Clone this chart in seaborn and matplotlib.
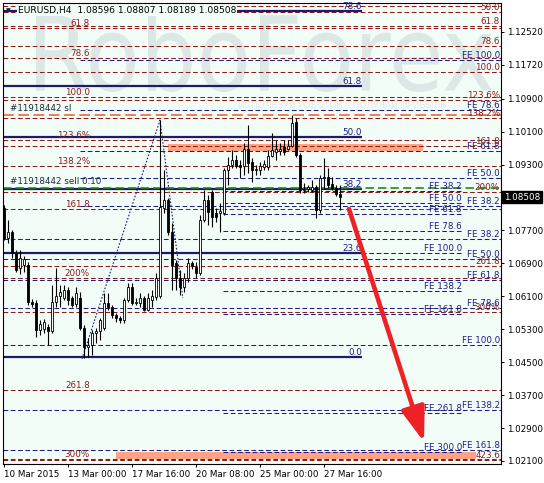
import numpy as np
import pandas as pd
import matplotlib
matplotlib.use('Agg')
import matplotlib.pyplot as plt
import matplotlib.transforms as mtransforms
from matplotlib.patches import Rectangle, FancyArrowPatch, PathPatch
from matplotlib.textpath import TextPath
from matplotlib.font_manager import FontProperties
import seaborn as sns

# ── Velas H4 EURUSD ──────────────────────────────────────────────
bar_open = [1.0824, 1.0751, 1.0766, 1.0715, 1.0679, 1.0686, 1.0686, 1.0596, 1.0594, 1.0528,
            1.0531, 1.0535, 1.0526, 1.0596, 1.0611, 1.0606, 1.0625, 1.0606, 1.0591, 1.0606,
            1.0533, 1.0487, 1.0492, 1.0521, 1.0526, 1.0533, 1.0594, 1.0584, 1.0565, 1.0557,
            1.0552, 1.0601, 1.0632, 1.0594, 1.0594, 1.0606, 1.0577, 1.0601, 1.0608, 1.0610,
            1.0824, 1.0844, 1.0766, 1.0691, 1.0654, 1.0632, 1.0654, 1.0691, 1.0681, 1.0666,
            1.0795, 1.0844, 1.0863, 1.0812, 1.0812, 1.0812, 1.0917, 1.0929, 1.0941, 1.0929,
            1.0926, 1.0968, 1.0936, 1.0917, 1.0917, 1.0924, 1.0924, 1.0951, 1.0960, 1.0963,
            1.0973, 1.0968, 1.0975, 1.1033, 1.0953, 1.0868, 1.0870, 1.0868, 1.0875, 1.0820,
            1.0897, 1.0900, 1.0883, 1.0873, 1.08596]
bar_high = [1.0831, 1.0795, 1.0771, 1.0722, 1.0722, 1.0708, 1.0693, 1.0603, 1.0601, 1.0552,
            1.0555, 1.0543, 1.0637, 1.0679, 1.0637, 1.0637, 1.0632, 1.0611, 1.0632, 1.0620,
            1.0540, 1.0509, 1.0528, 1.0533, 1.0557, 1.0618, 1.0618, 1.0589, 1.0570, 1.0562,
            1.0606, 1.0642, 1.0642, 1.0606, 1.0618, 1.0611, 1.0618, 1.0625, 1.0666, 1.1038,
            1.0917, 1.0849, 1.0788, 1.0698, 1.0674, 1.0666, 1.0703, 1.0696, 1.0693, 1.0808,
            1.0868, 1.0856, 1.0868, 1.0824, 1.0837, 1.0922, 1.0948, 1.0965, 1.0953, 1.0941,
            1.0982, 1.1026, 1.0946, 1.0929, 1.0936, 1.0941, 1.0965, 1.1007, 1.0990, 1.0982,
            1.0990, 1.0990, 1.1050, 1.1043, 1.0958, 1.0885, 1.0880, 1.0892, 1.0880, 1.0905,
            1.0946, 1.0922, 1.0900, 1.0880, 1.08807]
bar_low = [1.0747, 1.0739, 1.0703, 1.0669, 1.0664, 1.0669, 1.0589, 1.0584, 1.0511, 1.0516,
           1.0521, 1.0492, 1.0521, 1.0584, 1.0584, 1.0601, 1.0589, 1.0584, 1.0584, 1.0528,
           1.0460, 1.0462, 1.0468, 1.0497, 1.0504, 1.0528, 1.0577, 1.0557, 1.0548, 1.0545,
           1.0545, 1.0596, 1.0589, 1.0589, 1.0584, 1.0574, 1.0574, 1.0584, 1.0601, 1.0606,
           1.0812, 1.0759, 1.0625, 1.0625, 1.0613, 1.0620, 1.0645, 1.0676, 1.0654, 1.0661,
           1.0790, 1.0783, 1.0778, 1.0790, 1.0766, 1.0807, 1.0880, 1.0922, 1.0922, 1.0897,
           1.0905, 1.0909, 1.0888, 1.0905, 1.0905, 1.0917, 1.0917, 1.0948, 1.0941, 1.0953,
           1.0953, 1.0965, 1.0973, 1.0948, 1.0861, 1.0861, 1.0863, 1.0863, 1.0800, 1.0812,
           1.0873, 1.0873, 1.0868, 1.0854, 1.08189]
bar_close = [1.0751, 1.0766, 1.0715, 1.0674, 1.0703, 1.0700, 1.0596, 1.0592, 1.0528, 1.0543,
             1.0548, 1.0526, 1.0596, 1.0611, 1.0620, 1.0625, 1.0601, 1.0589, 1.0618, 1.0533,
             1.0487, 1.0492, 1.0521, 1.0526, 1.0552, 1.0594, 1.0584, 1.0565, 1.0557, 1.0552,
             1.0601, 1.0632, 1.0594, 1.0596, 1.0606, 1.0577, 1.0606, 1.0611, 1.0654, 1.0827,
             1.0844, 1.0766, 1.0686, 1.0654, 1.0632, 1.0654, 1.0691, 1.0683, 1.0666, 1.0795,
             1.0844, 1.0815, 1.0803, 1.0803, 1.0817, 1.0917, 1.0929, 1.0941, 1.0926, 1.0924,
             1.0968, 1.0934, 1.0917, 1.0919, 1.0926, 1.0931, 1.0951, 1.0965, 1.0968, 1.0968,
             1.0960, 1.0975, 1.1031, 1.0953, 1.0868, 1.0870, 1.0875, 1.0875, 1.0820, 1.0897,
             1.0900, 1.0880, 1.0873, 1.0858, 1.08508]

# ── Niveles Fibonacci ─────────────────────────────────────────────
fib_left_names = ["50.0", "61.8", "78.6", "100.0", "123.6%", "138.2%", "161.8", "200%", "261.8", "300%"]
fib_left_prices = [1.13139, 1.12617, 1.11888, 1.10941, 1.09897, 1.09265, 1.08221, 1.06545, 1.03824, 1.02148]

fib_right_names = ["50.0", "61.8", "78.6", "100.0", "123.6%", "138.2%", "161.8", "200%", "261.8", "300%", "423.6"]
fib_right_prices = [1.13006, 1.12666, 1.12180, 1.11548, 1.10868, 1.10431, 1.09751, 1.08633, 1.06836, 1.05719, 1.02124]

retr_names = ["0.0", "23.6", "38.2", "50.0", "61.8", "78.6"]
retr_prices = [1.04626, 1.07152, 1.08706, 1.09969, 1.11208, 1.13030]

fe_up_names = ["FE 38.2", "FE 50.0", "FE 61.8", "FE 78.6", "FE 100.0"]
fe_up_prices = [1.08293, 1.08974, 1.09629, 1.10625, 1.11840]

fe_down_names = ["FE 38.2", "FE 50.0", "FE 61.8", "FE 78.6", "FE 100.0", "FE 138.2", "FE 161.8"]
fe_down_prices = [1.07492, 1.07006, 1.06508, 1.05816, 1.04917, 1.03338, 1.02367]

fe_mid_names = ["FE 38.2", "FE 50.0", "FE 61.8", "FE 78.6", "FE 100.0", "FE 138.2", "FE 161.8", "FE 261.8", "FE 300.0"]
fe_mid_prices = [1.08658, 1.08366, 1.08099, 1.07686, 1.07152, 1.06229, 1.05670, 1.03266, 1.02319]

order_sl_price = 1.10504
order_sell_price = 1.08731
last_price = 1.08508

zone_bars = [(41.0, 104.75), (28.0, 118.0)]
zone_prices = [(1.09627, 1.09799), (1.02149, 1.02319)]

zigzag_bars = [19.5, 39.0, 44.7]
zigzag_prices = [1.0458, 1.1038, 1.0606]

arrow_bars = [86.25, 105.0]
arrow_prices = [1.08221, 1.02561]

ytick_values = [1.12520, 1.11720, 1.10900, 1.10100, 1.09300, 1.07700, 1.06900,
                1.06100, 1.05300, 1.04500, 1.03700, 1.02900, 1.02100]
xtick_bars = [0, 16, 32, 48, 64, 80]
xtick_labels = ["10 Mar 2015", "13 Mar 00:00", "17 Mar 16:00", "20 Mar 08:00", "25 Mar 00:00", "27 Mar 16:00"]

# ── Estilo ───────────────────────────────────────────────────────
BG = '#F3FDF7'
RED = '#8E1B1B'
NAVY = '#1E1E82'
SOLID = '#1C1C6A'
FS = 6.3
X0, X1 = -0.25, 124.25
Y0, Y1 = 1.02027, 1.13224

sns.set_theme(style='white', rc={'axes.facecolor': BG, 'figure.facecolor': 'white',
                                 'axes.edgecolor': 'black', 'axes.linewidth': 0.8})
plt.rcParams['font.family'] = ['DejaVu Sans']

W, H = 544, 483
fig = plt.figure(figsize=(W / 100, H / 100), dpi=100)
ax = fig.add_axes([3 / W, 1 - 464 / H, 498 / W, 461 / H])
ax.set_xlim(X0, X1)
ax.set_ylim(Y0, Y1)


def fig_px(x, y):
    return x / W, 1 - y / H


# marca de agua (trazada como contorno, en píxeles)
tp = TextPath((0, 0), 'RoboForex', size=100, prop=FontProperties(family='DejaVu Sans'))
bb = tp.get_extents()
wm_tr = (mtransforms.Affine2D().translate(-bb.x0, -bb.y0)
         .scale((492 - 36) / bb.width, (92 - 12) / bb.height)
         .translate(36, H - 92))
ax.add_patch(PathPatch(tp, transform=wm_tr, fc='#DCE8E6', ec='none', zorder=0.5))
ax.text(*fig_px(238, 105), 'ИСПОЛЬЗУЙ РОБОТОВ – ПОЛУЧАЙ ПРИБЫЛЬ', transform=fig.transFigure,
        fontsize=6.5, color='#E2EAE8', ha='left', va='center', zorder=0.5)

# zonas
for (b0, b1), (p0, p1) in zip(zone_bars, zone_prices):
    ax.add_patch(Rectangle((b0, p0), b1 - b0, p1 - p0, color='#FFA383', lw=0, zorder=1))

dash = (0, (4.5, 2.5))
lw_d = 0.75

# Fibonacci rojo (líneas completas)
ax.hlines(fib_left_prices, X0, X1, colors=RED, linestyles=[dash], lw=lw_d, zorder=2)
ax.hlines(fib_right_prices, X0, X1, colors=RED, linestyles=[dash], lw=lw_d, zorder=2)
for name, p in zip(fib_left_names[1:], fib_left_prices[1:]):
    ax.text(21.5, p, name, ha='right', va='bottom', fontsize=FS, color=RED, zorder=4)
for name, p in zip(fib_right_names, fib_right_prices):
    ax.text(124.0, p, name, ha='right', va='bottom', fontsize=FS, color=RED, zorder=4)

# expansiones FE
ax.hlines(fe_up_prices, 19.0, X1, colors=NAVY, linestyles=[dash], lw=lw_d, zorder=2)
ax.hlines(fe_down_prices, X0, X1, colors=NAVY, linestyles=[dash], lw=lw_d, zorder=2)
ax.hlines(fe_mid_prices, 54.75, 114.5, colors=NAVY, linestyles=[dash], lw=lw_d, zorder=2)
for name, p in zip(fe_up_names + fe_down_names, fe_up_prices + fe_down_prices):
    ax.text(124.0, p, name, ha='right', va='bottom', fontsize=FS, color=NAVY, zorder=4)
for name, p in zip(fe_mid_names, fe_mid_prices):
    ax.text(114.5, p, name, ha='right', va='bottom', fontsize=FS, color=NAVY, zorder=4)

# retroceso sólido
ax.hlines(retr_prices, X0, 89.5, colors=SOLID, lw=1.6, zorder=2)
for name, p in zip(retr_names, retr_prices):
    ax.text(89.5, p, name, ha='right', va='bottom', fontsize=FS, color=NAVY, zorder=4)

# órdenes
ax.axhline(order_sl_price, color='#F05A28', lw=1.1, ls=(0, (7, 3)), zorder=2)
ax.axhline(order_sell_price, color='#1E8A1E', lw=1.2, ls=(0, (5, 2.5)), zorder=2.1)
ax.text(1.5, order_sl_price + 0.0004, '#11918442 sl', ha='left', va='bottom',
        fontsize=FS, color='#1A2A3A', zorder=4)
ax.text(1.5, order_sell_price + 0.0004, '#11918442 sell 0.10', ha='left', va='bottom',
        fontsize=FS, color='#1A2A3A', zorder=4)

# zigzag FE punteado
zz = pd.DataFrame({'bar': zigzag_bars, 'price': zigzag_prices})
sns.lineplot(data=zz, x='bar', y='price', ax=ax, color=NAVY, lw=0.8,
             linestyle=(0, (1.5, 1.5)), sort=False, zorder=2.5)

# velas
idx = np.arange(len(bar_open))
o = np.array(bar_open)
c = np.array(bar_close)
ax.vlines(idx, bar_low, bar_high, color='black', lw=0.8, zorder=3)
up = c >= o
body = np.maximum(np.abs(c - o), 0.00006)
ax.bar(idx[up], body[up], bottom=o[up], width=0.62, color='white', edgecolor='black',
       lw=0.6, zorder=3.1)
ax.bar(idx[~up], body[~up], bottom=c[~up], width=0.62, color='black', edgecolor='black',
       lw=0.6, zorder=3.1)

# flecha
ax.add_patch(FancyArrowPatch((arrow_bars[0], arrow_prices[0]), (arrow_bars[1], arrow_prices[1]),
                             arrowstyle='-|>,head_length=1.05,head_width=0.36',
                             mutation_scale=20, color='#EE2226', lw=3.3, zorder=5,
                             shrinkA=0, shrinkB=0))

# cabecera
ax.text(*fig_px(6, 11), '▼', transform=fig.transFigure, fontsize=4.5, color='#202040',
        ha='left', va='center', zorder=6)
ax.text(*fig_px(18, 11), 'EURUSD,H4  1.08596 1.08807 1.08189 1.08508',
        transform=fig.transFigure, fontsize=6.6, color='black', ha='left', va='center', zorder=6,
        bbox=dict(fc=BG, ec='none', pad=0.6))

# ejes
ax.yaxis.tick_right()
ax.set_yticks(ytick_values)
ax.set_yticklabels([f'{v:.5f}' for v in ytick_values])
ax.set_xticks(xtick_bars)
ax.set_xticklabels(xtick_labels, ha='left')
ax.tick_params(axis='both', which='both', direction='out', length=2.5, width=0.7,
               labelsize=FS, colors='black', pad=1.5)
ax.tick_params(axis='y', right=True, left=False)
ax.tick_params(axis='x', bottom=True)
ax.set_xlabel('')
ax.set_ylabel('')
for s in ax.spines.values():
    s.set_color('black')
    s.set_linewidth(0.8)

trans = mtransforms.blended_transform_factory(ax.transAxes, ax.transData)
ax.text(1.006, last_price, f'{last_price:.5f}', transform=trans, ha='left', va='center',
        fontsize=FS, color='white', clip_on=False, zorder=7,
        bbox=dict(fc='black', ec='black', pad=1.2))

plt.savefig('out.png', dpi=100)
